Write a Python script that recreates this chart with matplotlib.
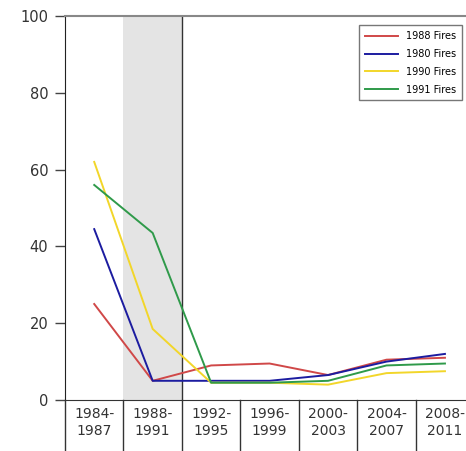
import numpy as np
import matplotlib.pyplot as plt

periods = ['1984-\n1987', '1988-\n1991', '1992-\n1995', '1996-\n1999',
           '2000-\n2003', '2004-\n2007', '2008-\n2011']
fires_1988 = [25, 5, 9, 9.5, 6.5, 10.5, 11]
fires_1980 = [44.5, 5, 5, 5, 6.5, 10, 12]
fires_1990 = [62, 18.5, 4.5, 4.5, 4, 7, 7.5]
fires_1991 = [56, 43.5, 4.5, 4.5, 5, 9, 9.5]
series = [('1988 Fires', fires_1988, '#d04848'),
          ('1980 Fires', fires_1980, '#1c1ca0'),
          ('1990 Fires', fires_1990, '#f2d62a'),
          ('1991 Fires', fires_1991, '#2f9a4a')]

fig = plt.figure(figsize=(4.66, 4.51), dpi=100)
ax = fig.add_axes([65 / 466, 1 - 400 / 451, 1 - 65 / 466, 384 / 451])
x = np.arange(len(periods))

# shaded period and dividing line
ax.axvspan(0.5, 1.5, color='#e4e4e4', lw=0, zorder=0)
ax.axvline(1.5, color='#333333', lw=1, zorder=1)

for name, vals, c in series:
    ax.plot(x, vals, color=c, lw=1.4, label=name, zorder=3)

ax.set_xlim(-0.5, 6.36)
ax.set_ylim(0, 100)
ax.set_yticks([0, 20, 40, 60, 80, 100])
ax.tick_params(axis='y', length=7, width=1, color='#444444', labelsize=10.5,
               labelcolor='#333333', pad=5)
ax.set_xticks([])
ax.spines['right'].set_visible(False)
ax.spines['top'].set_color('#888888')
ax.spines['top'].set_linewidth(1.5)
ax.spines['left'].set_color('#222222')
ax.spines['bottom'].set_color('#333333')

# table-like x labels
tr = ax.get_xaxis_transform()
for k in range(len(periods) + 1):
    xe = k - 0.5
    ax.plot([xe, xe], [0, -0.14], transform=tr, color='#333333', lw=1,
            clip_on=False)
for k, lab in enumerate(periods):
    ax.text(k, -0.018, lab, transform=tr, ha='center', va='top', fontsize=10,
            color='#333333', linespacing=1.25)

leg = ax.legend(loc='upper right', bbox_to_anchor=(1.003, 0.988), fontsize=7,
                frameon=True, fancybox=False, borderpad=0.6, handlelength=3.4,
                labelspacing=0.8, handletextpad=0.9)
leg.get_frame().set_edgecolor('#555555')
leg.get_frame().set_linewidth(1)

fig.savefig('out.png', dpi=100)
